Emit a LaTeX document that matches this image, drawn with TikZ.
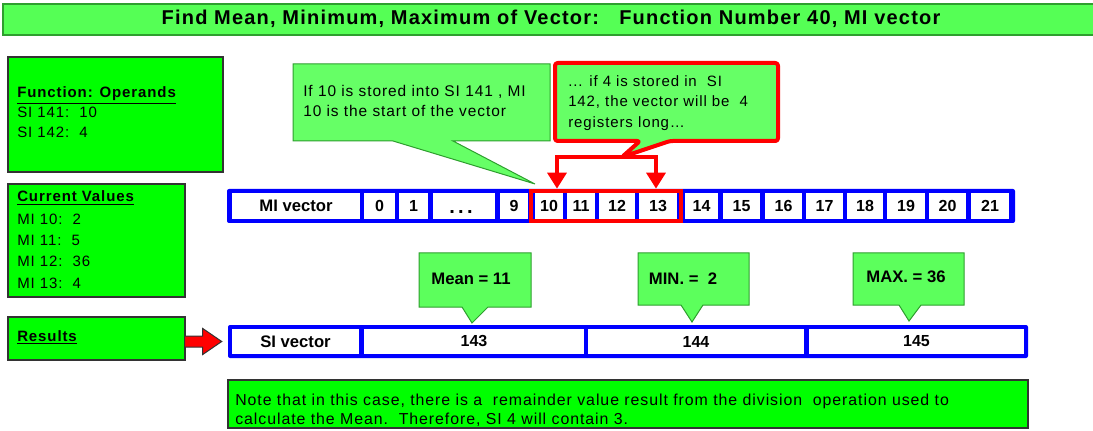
\documentclass[tikz,border=0pt]{standalone}
\usepackage{fontspec}
\setmainfont{Liberation Sans}
\newfontfamily\spfont[LetterSpace=6]{Liberation Sans}
\usetikzlibrary{arrows.meta,calc,fit}
\definecolor{tgreen}{HTML}{55FF55}
\definecolor{pgreen}{HTML}{00FF00}
\definecolor{cgreen}{HTML}{66FF66}
\definecolor{mgreen}{HTML}{5CFF5C}
\definecolor{dgreen}{HTML}{2E9E2E}
\definecolor{bgray}{HTML}{333333}
\definecolor{vblue}{HTML}{0000FF}
\definecolor{vred}{HTML}{FF0000}
\begin{document}
\begin{tikzpicture}[x=0.75pt,y=-0.75pt,
  every node/.style={inner sep=0pt},
  tbox/.style={draw=bgray, fill=pgreen, line width=1.2pt},
  lt/.style={anchor=base west, font=\spfont\fontsize{11.25}{13}\selectfont},
  ct/.style={anchor=base west, font=\spfont\fontsize{11.6}{13}\selectfont},
  cell/.style={fill=white},
  ctext/.style={font=\bfseries\fontsize{12}{14}\selectfont},
  vecframe/.style={fill=vblue, rounded corners=1.5pt},
  lgcall/.style={draw=dgreen, fill=cgreen, line width=0.75pt},
  mcall/.style={draw=dgreen, fill=mgreen, line width=0.75pt},
  rcall/.style={draw=vred, fill=cgreen, line width=3pt, rounded corners=2pt, line join=round},
  rarr/.style={draw=vred, line width=3pt, -{Triangle[length=12pt,width=14pt]}},
  blab/.style={font=\bfseries\fontsize{12.5}{14}\selectfont},
]
\useasboundingbox (0,0) rectangle (1093,431);

% title
\node[draw=dgreen, fill=tgreen, line width=1.5pt, fit={(3,4)(1097,35)}] (titlebar) {};
\node[font=\spfont\bfseries\fontsize{15}{18}\selectfont, anchor=base] (title) at (551,25)
  {Find Mean, Minimum, Maximum of Vector:\ \ \ Function Number 40, MI vector};

% left boxes
\node[tbox, fit={(8,57)(223,172)}] (ops) {};
\node[lt] (op1) at (17,98) {\bfseries\underline{Function: Operands}};
\node[lt] (op2) at (17,118) {SI 141:\ \ 10};
\node[lt] (op3) at (17,138) {SI 142:\ \ 4};

\node[tbox, fit={(8,184)(185,297)}] (cur) {};
\node[lt] (cv0) at (17,202) {\bfseries\underline{Current Values}};
\node[lt] (cv1) at (17,224) {MI 10:\ \ 2};
\node[lt] (cv2) at (17,246) {MI 11:\ \ 5};
\node[lt] (cv3) at (17,267) {MI 12:\ \ 36};
\node[lt] (cv4) at (17,288) {MI 13:\ \ 4};

\node[tbox, fit={(8,317)(185,360)}] (results) {};
\node[lt] (restext) at (17,341) {\bfseries\underline{Results}};

% callout 1
\draw[lgcall] (293,64) -- (550,64) -- (550,141) -- (453,141) -- (535,184) -- (393,141) -- (293,141) -- cycle;
\node[ct] (ca1) at (303,97) {If 10 is stored into SI 141 , MI};
\node[ct] (ca2) at (303,117) {10 is the start of the vector};

% MI vector
\node[vecframe, fit={(227,189)(1015,223)}] (mivec) {};
\node[cell, fit={(232,193)(360,219)}] (cmi) {};
\node[blab] (cmitext) at (cmi.center) {MI vector};
\foreach \l/\a/\b/\nm in {0/364/395/c0, 1/399/428/c1, /433/495/cdots, 9/500/528/c9,
  10/535/563/c10, 11/567/595/c11, 12/599/635/c12, 13/639/677/c13, 14/685/718/c14,
  15/723/760/c15, 16/765/802/c16, 17/806/843/c17, 18/847/883/c18, 19/887/925/c19,
  20/929/966/c20, 21/971/1009/c21}{
  \node[cell, fit={(\a,193)(\b,219)}] (\nm) {};
  \node[ctext] (\nm t) at (\nm.center) {\l};
}
\node[font=\bfseries\fontsize{15}{15}\selectfont] (dots) at (461,212) {.\,.\,.};
\node[draw=vred, line width=3pt, fit={(531,191)(681,221)}] (sel) {};

% red callout
\draw[rcall] (555,63) -- (778,63) -- (778,141) -- (670,141) -- (622,157) -- (640,141) -- (555,141) -- cycle;
\coordinate (brk) at (622,157);
\node[lt] (cb1) at (568,87) {... if 4 is stored in\ \ SI};
\node[lt] (cb2) at (568,107) {142, the vector will be\ \ 4};
\node[lt] (cb3) at (568,128) {registers long…};
\coordinate (a10) at ($(c10.north)+(8,-4)$);
\coordinate (a13) at ($(c13.north)+(-2,-4)$);
\draw[rarr] (brk) -| (a10);
\draw[rarr] (brk) -| (a13);

% mean/min/max callouts
\draw[mcall] (419,253) -- (531,253) -- (531,307) -- (488,307) -- (472,323) -- (462,307) -- (419,307) -- cycle;
\node[blab] (mean) at (471,279) {Mean = 11};
\draw[mcall] (638,253) -- (749,253) -- (749,305) -- (703,305) -- (692,322) -- (681,305) -- (638,305) -- cycle;
\node[blab] (min) at (683,279) {MIN. =\ \ 2};
\draw[mcall] (853,253) -- (964,253) -- (964,305) -- (921,305) -- (909,321) -- (899,305) -- (853,305) -- cycle;
\node[blab] (max) at (906,277) {MAX. = 36};

% SI vector
\node[vecframe, fit={(228,325)(1028,358)}] (sivec) {};
\node[cell, fit={(232,329)(359,354)}] (si) {};
\node[blab] (sitext) at (si.center) {SI vector};
\node[cell, fit={(364,329)(584,354)}] (s143) {};
\node[ctext] (s143t) at (s143.center) {143};
\node[cell, fit={(588,329)(804,354)}] (s144) {};
\node[ctext] (s144t) at (s144.center) {144};
\node[cell, fit={(809,329)(1024,354)}] (s145) {};
\node[ctext] (s145t) at (s145.center) {145};

% results arrow
\coordinate (rt) at ($(sivec.west)+(-6,0)$);
\draw[draw=bgray, fill=vred, line width=0.75pt] (rt) -- ++(-19,-13) -- ++(0,7.5) -- ++(-18,0) -- ++(0,11) -- ++(18,0) -- ++(0,7.5) -- cycle;

% note
\node[tbox, fit={(228,380)(1028,428)}] (note) {};
\node[anchor=base west, font=\spfont\fontsize{11.9}{13}\selectfont] (n1) at (235,405) {Note that in this case, there is a\ \ remainder value result from the division\ \ operation used to};
\node[anchor=base west, font=\spfont\fontsize{11.9}{13}\selectfont] (n2) at (235,424) {calculate the Mean.\ \ Therefore, SI 4 will contain 3.};
\end{tikzpicture}
\end{document}
